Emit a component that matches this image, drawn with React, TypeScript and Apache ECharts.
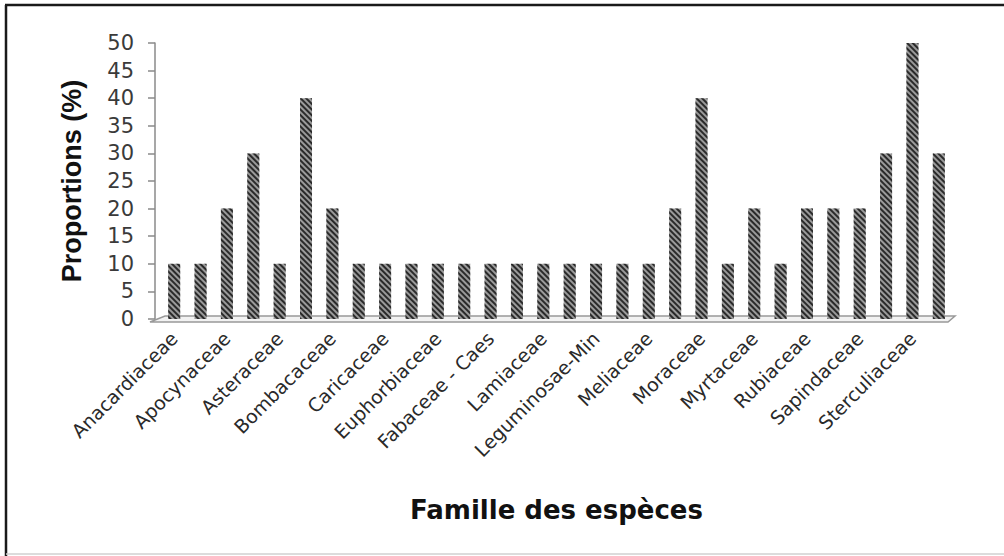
import React, { useEffect, useRef } from "react";
import * as echarts from "echarts";

const categories = [
  "Anacardiaceae", "Annonaceae", "Apocynaceae", "Arecaceae", "Asteraceae",
  "Bignoniaceae", "Bombacaceae", "Burseraceae", "Caricaceae", "Combretaceae",
  "Euphorbiaceae", "Fabaceae", "Fabaceae - Caes", "Fabaceae - Pap", "Lamiaceae",
  "Lecythidaceae", "Leguminosae-Min", "Malvaceae", "Meliaceae", "Mimosaceae",
  "Moraceae", "Moringaceae", "Myrtaceae", "Rhamnaceae", "Rubiaceae",
  "Rutaceae", "Sapindaceae", "Sapotaceae", "Sterculiaceae", "Verbenaceae",
];
const proportions = [
  10, 10, 20, 30, 10, 40, 20, 10, 10, 10,
  10, 10, 10, 10, 10, 10, 10, 10, 10, 20,
  40, 10, 20, 10, 20, 20, 20, 30, 50, 30,
];
const yMin = 0;
const yMax = 50;
const yStep = 5;

export default function App() {
  const ref = useRef<HTMLDivElement>(null);
  useEffect(() => {
    if (!ref.current) return;
    const chart = echarts.init(ref.current, null, { renderer: "svg" });
    const gridLeft = 161;
    const gridTop = 43;
    const gridWidth = 791;
    const gridHeight = 276;
    const hatch = {
      symbol: "rect",
      symbolSize: 1,
      color: "#2a2a2a",
      backgroundColor: "#9a9a9a",
      dashArrayX: [1, 0],
      dashArrayY: [2, 1.5],
      rotation: Math.PI / 4,
    };
    chart.setOption({
      animation: false,
      backgroundColor: "#ffffff",
      aria: { enabled: true, decal: { show: true, decals: [hatch] } },
      grid: { left: gridLeft, top: gridTop, width: gridWidth, height: gridHeight },
      xAxis: {
        type: "category",
        data: categories,
        name: "Famille des espèces",
        nameLocation: "middle",
        nameGap: 178,
        nameTextStyle: {
          fontFamily: "DejaVu Sans",
          fontWeight: "bold",
          fontSize: 26,
          color: "#111",
          verticalAlign: "top",
        },
        axisLine: { show: false },
        axisTick: { show: false },
        axisLabel: {
          interval: 1,
          rotate: 45,
          margin: 16,
          fontFamily: "DejaVu Sans",
          fontSize: 19,
          color: "#2a2a2a",
        },
      },
      yAxis: {
        type: "value",
        min: yMin,
        max: yMax,
        interval: yStep,
        offset: 6,
        name: "Proportions (%)",
        nameLocation: "middle",
        nameGap: 70,
        nameTextStyle: {
          fontFamily: "Liberation Sans",
          fontWeight: "bold",
          fontSize: 27,
          color: "#111",
        },
        axisLine: { show: true, lineStyle: { color: "#8a8a8a", width: 1.5 } },
        axisTick: { show: true, length: 7, lineStyle: { color: "#8a8a8a", width: 1.5 } },
        splitLine: { show: false },
        axisLabel: {
          margin: 21,
          fontFamily: "DejaVu Sans",
          fontSize: 21,
          color: "#3a3a3a",
        },
      },
      series: [
        {
          type: "bar",
          data: proportions,
          barWidth: 12,
          z: 3,
          itemStyle: { color: "#9a9a9a", decal: hatch },
        },
      ],
    });
    const [x0, y0] = chart.convertToPixel({ gridIndex: 0 }, [0, 0]) as number[];
    const [x1] = chart.convertToPixel({ gridIndex: 0 }, [categories.length - 1, 0]) as number[];
    const band = (x1 - x0) / (categories.length - 1);
    const L = x0 - band / 2;
    const R = x1 + band / 2;
    chart.setOption({
      graphic: [
        {
          type: "polygon",
          z: 1,
          shape: {
            points: [
              [L - 11, y0 + 3],
              [L + 4, y0 - 3],
              [R + 3, y0 - 3],
              [R - 4, y0 + 3],
            ],
          },
          style: { fill: "#f2f2f2", stroke: "#999", lineWidth: 1.5 },
        },
        {
          type: "line",
          shape: { x1: 6, y1: 5, x2: 6, y2: 556 },
          style: { stroke: "#1a1a1a", lineWidth: 2.5 },
        },
        {
          type: "line",
          shape: { x1: 5, y1: 5, x2: 1004, y2: 5 },
          style: { stroke: "#1a1a1a", lineWidth: 2.5 },
        },
        {
          type: "line",
          shape: { x1: 6, y1: 554, x2: 1004, y2: 554 },
          style: { stroke: "#d0d0d0", lineWidth: 1.5 },
        },
      ],
    });
    return () => chart.dispose();
  }, []);
  return (
    <div
      ref={ref}
      style={{ position: "absolute", left: 0, top: 0, width: 1004, height: 556 }}
    />
  );
}
